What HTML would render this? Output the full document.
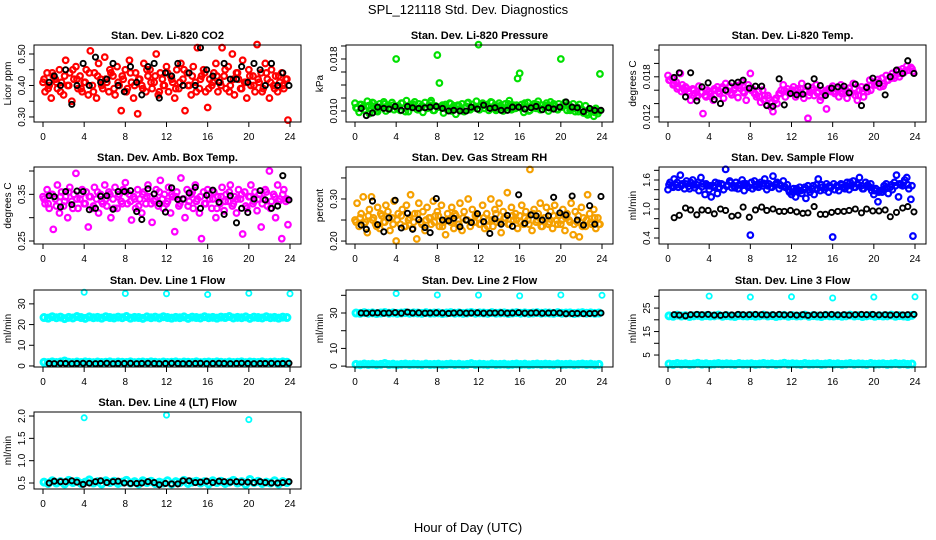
<!DOCTYPE html>
<html><head><meta charset="utf-8">
<style>
html,body{margin:0;padding:0;background:#fff;}
svg{display:block;font-family:"Liberation Sans",sans-serif;}
</style></head>
<body>
<svg id="chart" width="936" height="540" viewBox="0 0 936 540">
<text x="468" y="14" text-anchor="middle" font-size="13">SPL_121118  Std. Dev. Diagnostics</text>
<text x="468" y="532" text-anchor="middle" font-size="13">Hour of Day (UTC)</text>
</svg>
<script>
// ---- data ----
const hourTicks = [0,4,8,12,16,20,24];
const blackHours = [0.6,1.1,1.7,2.2,2.8,3.3,3.9,4.5,5.1,5.6,6.2,6.8,7.3,7.9,8.5,9.1,9.6,10.2,10.8,11.3,11.9,12.5,13.1,13.6,14.2,14.8,15.3,15.9,16.5,17.1,17.6,18.2,18.8,19.3,19.9,20.5,21.1,21.6,22.2,22.8,23.3,23.9];
const outlierHours = [4,8,12,16,20,24];
const denseStep = 0.2;
const flatStep = 0.4;

const co2Color = [0.41,0.38,0.44,0.40,0.36,0.43,0.42,0.39,0.45,0.41,0.37,0.48,0.40,0.44,0.35,0.42,0.46,0.39,0.43,0.38,
0.41,0.45,0.37,0.51,0.40,0.44,0.36,0.47,0.42,0.39,0.49,0.41,0.38,0.44,0.43,0.37,0.46,0.40,0.32,0.42,
0.45,0.39,0.48,0.41,0.36,0.44,0.31,0.42,0.40,0.47,0.38,0.43,0.45,0.39,0.41,0.50,0.37,0.44,0.42,0.40,
0.46,0.38,0.43,0.41,0.36,0.45,0.39,0.47,0.42,0.32,0.44,0.40,0.37,0.46,0.41,0.52,0.39,0.43,0.45,0.38,
0.33,0.42,0.40,0.44,0.47,0.38,0.41,0.52,0.43,0.39,0.46,0.40,0.50,0.37,0.44,0.42,0.39,0.48,0.41,0.36,
0.45,0.40,0.43,0.38,0.53,0.41,0.44,0.39,0.47,0.42,0.36,0.45,0.40,0.43,0.38,0.41,0.44,0.39,0.42,0.29];
const co2Core = [0.42,0.39,0.44,0.41,0.38,0.43,0.40,0.45,0.42,0.39,0.41,0.44,0.38,0.43,0.40,0.42,0.45,0.39,0.41,0.43,0.38,0.44,0.40,0.42,0.39,0.45,0.41,0.43,0.38,0.40,0.44,0.42,0.39,0.41,0.45,0.40,0.43,0.38,0.42,0.44,0.39,0.41,0.43,0.40,0.45,0.38,0.42,0.44,0.39,0.41,0.43,0.40,0.42,0.38,0.44,0.41,0.39,0.43,0.40,0.42];
const co2Black = [0.41,0.43,0.40,0.45,0.34,0.40,0.47,0.40,0.49,0.41,0.42,0.47,0.40,0.38,0.46,0.41,0.37,0.46,0.47,0.36,0.44,0.43,0.47,0.40,0.44,0.40,0.52,0.45,0.43,0.41,0.47,0.42,0.42,0.46,0.41,0.47,0.45,0.40,0.47,0.40,0.44,0.40];

const presColor = [.0112,.0104,.0098,.0110,.0107,.0101,.0115,.0096,.0108,.0112,.0103,.0099,.0111,.0106,.0114,.0100,.0109,.0105,.0113,.0102,
.0180,.0108,.0101,.0112,.0105,.0116,.0099,.0110,.0107,.0114,.0103,.0111,.0106,.0098,.0113,.0104,.0109,.0116,.0101,.0108,
.0186,.0143,.0106,.0097,.0110,.0104,.0112,.0100,.0108,.0095,.0109,.0103,.0111,.0099,.0107,.0113,.0102,.0110,.0105,.0115,
.0202,.0108,.0112,.0104,.0110,.0101,.0114,.0106,.0109,.0103,.0112,.0107,.0100,.0111,.0105,.0116,.0102,.0109,.0104,.0150,
.0158,.0110,.0098,.0106,.0113,.0101,.0108,.0111,.0104,.0115,.0102,.0109,.0106,.0112,.0100,.0114,.0105,.0108,.0103,.0111,
.0180,.0107,.0113,.0101,.0109,.0104,.0111,.0099,.0106,.0110,.0102,.0097,.0108,.0094,.0103,.0099,.0092,.0104,.0096,.0157];
const presCore = [.0105,.0110,.0102,.0108,.0113,.0100,.0106,.0111,.0103,.0109,.0104,.0112,.0099,.0107,.0110,.0102,.0108,.0105,.0113,.0101,.0106,.0109,.0103,.0111,.0104,.0108,.0100,.0112,.0105,.0107,.0102,.0110,.0106,.0113,.0101,.0108,.0104,.0111,.0103,.0109,.0105,.0112,.0100,.0107,.0110,.0103,.0108,.0105,.0111,.0102,.0106,.0109,.0101,.0104,.0099,.0102,.0097,.0101,.0098,.0100];
const presBlack = [.0104,.0093,.0097,.0106,.0104,.0103,.0107,.0101,.0107,.0105,.0104,.0105,.0106,.0107,.0104,.0100,.0101,.0100,.0100,.0106,.0103,.0109,.0104,.0105,.0101,.0101,.0106,.0106,.0103,.0105,.0107,.0102,.0105,.0103,.0106,.0114,.0106,.0105,.0099,.0104,.0101,.0101];

const tempColor = [.0182,.0175,.0178,.0170,.0172,.0165,.0185,.0168,.0160,.0163,.0158,.0145,.0162,.0155,.0150,.0166,.0157,.0125,.0152,.0160,
.0158,.0150,.0145,.0160,.0165,.0155,.0162,.0148,.0170,.0158,.0166,.0153,.0160,.0167,.0149,.0163,.0172,.0156,.0145,.0168,
.0185,.0162,.0155,.0150,.0158,.0142,.0160,.0152,.0138,.0148,.0135,.0128,.0145,.0140,.0155,.0160,.0168,.0150,.0162,.0155,
.0158,.0165,.0150,.0162,.0156,.0170,.0148,.0160,.0118,.0157,.0164,.0152,.0168,.0158,.0145,.0160,.0155,.0132,.0162,.0158,
.0166,.0155,.0162,.0150,.0168,.0158,.0160,.0148,.0163,.0156,.0170,.0152,.0145,.0160,.0165,.0150,.0162,.0158,.0175,.0168,
.0172,.0168,.0176,.0165,.0178,.0170,.0182,.0175,.0180,.0185,.0178,.0188,.0190,.0185,.0192,.0188,.0196,.0190,.0194,.0188];
const tempCore = [.0175,.0168,.0162,.0158,.0165,.0155,.0160,.0152,.0157,.0150,.0155,.0162,.0158,.0165,.0160,.0156,.0163,.0167,.0158,.0162,.0160,.0154,.0150,.0146,.0152,.0142,.0148,.0155,.0160,.0157,.0160,.0155,.0162,.0158,.0152,.0160,.0156,.0150,.0158,.0162,.0158,.0162,.0155,.0160,.0157,.0163,.0152,.0158,.0165,.0160,.0168,.0172,.0166,.0175,.0178,.0182,.0180,.0186,.0190,.0192];
const tempBlack = [.0179,.0186,.0150,.0186,.0144,.0165,.0171,.0146,.0140,.0160,.0171,.0172,.0175,.0163,.0166,.0166,.0137,.0136,.0177,.0138,.0155,.0153,.0154,.0166,.0177,.0167,.0152,.0163,.0165,.0166,.0156,.0169,.0137,.0164,.0178,.0170,.0153,.0180,.0190,.0185,.0204,.0185];

const ambColor = [.345,.330,.360,.320,.350,.275,.340,.370,.310,.355,.325,.345,.300,.365,.335,.350,.395,.320,.340,.360,
.330,.355,.280,.345,.320,.365,.340,.310,.350,.330,.370,.325,.355,.300,.340,.365,.320,.350,.335,.360,
.375,.330,.350,.295,.345,.320,.360,.340,.310,.355,.330,.370,.345,.290,.335,.360,.325,.380,.340,.350,
.330,.365,.310,.345,.270,.355,.325,.385,.340,.300,.360,.335,.350,.320,.370,.340,.310,.255,.355,.330,
.360,.340,.320,.355,.300,.345,.330,.365,.315,.350,.335,.370,.325,.345,.310,.360,.340,.265,.355,.320,
.345,.370,.330,.355,.315,.350,.280,.340,.360,.325,.400,.335,.350,.300,.370,.340,.255,.360,.335,.285];
const ambCore = [.340,.330,.350,.325,.345,.335,.355,.320,.340,.350,.330,.345,.325,.355,.335,.340,.350,.320,.345,.330,.355,.335,.340,.325,.350,.345,.330,.340,.355,.320,.335,.350,.345,.330,.340,.325,.355,.335,.345,.330,.350,.340,.320,.345,.335,.355,.330,.340,.350,.325,.345,.335,.340,.330,.355,.320,.345,.335,.350,.340];
const ambBlack = [.347,.345,.323,.356,.328,.357,.356,.317,.320,.346,.347,.318,.356,.356,.358,.313,.296,.362,.351,.330,.312,.364,.339,.340,.353,.365,.320,.348,.359,.333,.307,.347,.289,.320,.311,.340,.358,.338,.320,.325,.390,.338];

const rhColor = [.250,.290,.235,.265,.305,.245,.220,.275,.305,.255,.240,.280,.230,.260,.245,.285,.270,.225,.255,.295,
.200,.265,.240,.275,.235,.285,.250,.310,.230,.265,.205,.290,.245,.270,.225,.280,.255,.240,.295,.260,
.270,.235,.285,.245,.215,.265,.250,.280,.230,.260,.240,.290,.225,.270,.250,.300,.235,.275,.245,.265,
.255,.240,.285,.230,.265,.250,.300,.235,.275,.245,.290,.220,.270,.255,.315,.240,.280,.250,.265,.230,
.260,.285,.240,.270,.250,.370,.225,.275,.245,.265,.290,.235,.255,.280,.240,.270,.230,.285,.250,.260,
.240,.275,.225,.265,.250,.290,.215,.270,.245,.210,.280,.255,.235,.310,.265,.240,.275,.230,.255,.240];
const rhCore = [.245,.255,.240,.260,.250,.235,.265,.245,.255,.240,.250,.260,.235,.255,.245,.265,.240,.250,.255,.245,.260,.235,.250,.245,.265,.240,.255,.250,.245,.260,.240,.255,.235,.250,.265,.245,.255,.240,.260,.250,.245,.255,.240,.265,.250,.235,.255,.245,.260,.240,.250,.255,.245,.240,.260,.235,.250,.245,.255,.240];
const rhBlack = [.238,.228,.295,.239,.222,.255,.297,.231,.266,.228,.251,.232,.220,.301,.250,.248,.254,.234,.250,.244,.265,.246,.218,.253,.240,.261,.235,.310,.242,.262,.260,.250,.260,.304,.267,.262,.307,.250,.238,.284,.240,.306];

const flowColor = [1.40,1.55,1.48,1.62,1.50,1.45,1.70,1.52,1.42,1.58,1.47,1.55,1.60,1.44,1.50,1.38,1.65,1.52,1.30,1.48,
1.40,1.25,1.48,1.55,1.32,1.45,1.52,1.40,1.82,1.50,1.58,1.44,1.48,1.55,1.42,1.50,1.60,1.38,1.52,1.45,
0.46,1.42,1.58,1.50,1.45,1.55,1.48,1.62,1.40,1.52,1.46,1.68,1.50,1.55,1.42,1.48,1.58,1.45,1.50,1.35,
1.30,1.42,1.25,1.38,1.45,1.32,1.40,1.22,1.48,1.35,1.42,1.30,1.50,1.62,1.38,1.45,1.40,1.52,1.35,1.44,
0.42,1.40,1.48,1.38,1.52,1.45,1.42,1.55,1.40,1.48,1.58,1.45,1.52,1.65,1.48,1.42,1.55,1.50,1.45,1.38,
1.30,1.42,1.15,1.38,1.35,1.48,1.52,1.32,1.45,1.40,1.55,1.70,1.25,1.50,1.48,1.60,1.65,1.42,1.20,0.44];
const flowCore = [1.50,1.45,1.55,1.48,1.52,1.42,1.50,1.55,1.46,1.52,1.48,1.45,1.53,1.50,1.47,1.55,1.44,1.50,1.52,1.48,1.55,1.46,1.50,1.53,1.48,1.45,1.52,1.50,1.47,1.40,1.35,1.42,1.38,1.45,1.40,1.48,1.42,1.50,1.45,1.48,1.52,1.46,1.50,1.48,1.55,1.45,1.50,1.42,1.48,1.52,1.38,1.35,1.40,1.45,1.50,1.48,1.52,1.55,1.50,1.48];
const flowBlack = [0.82,0.87,1.02,0.98,0.88,0.98,0.97,0.90,1.00,0.97,0.85,0.87,1.04,0.83,0.98,1.04,0.97,1.00,0.95,0.95,0.97,0.94,0.91,0.92,1.05,0.89,0.89,0.93,0.95,0.95,0.97,1.00,0.92,1.00,0.96,0.96,0.98,0.84,0.93,1.02,1.05,0.94];

const line1High = [23.4,23.1,23.8,23.3,23.6,22.9,23.5,23.2,23.9,23.4,23.0,23.7,23.3,23.5,23.1,23.8,23.4,23.2,23.6,23.3,23.9,23.1,23.5,23.4,23.0,23.7,23.3,23.6,23.2,23.8,23.4,23.1,23.5,23.3,23.7,23.0,23.6,23.4,23.2,23.8,23.3,23.5,23.1,23.6,23.4,23.9,23.2,23.5,23.3,23.7,23.0,23.6,23.4,23.2,23.8,23.3,23.5,23.1,23.6,23.4];
const line1Low = [1.8,1.6,2.0,1.7,1.9,2.4,1.8,1.6,1.9,1.7,2.0,1.8,1.6,1.9,1.7,1.8,2.0,1.6,1.9,1.8,1.7,2.0,1.6,1.8,1.9,1.7,2.0,1.8,1.6,1.9,1.7,1.8,2.0,1.6,1.9,1.8,1.7,2.0,1.6,1.8,1.9,1.7,2.0,1.8,1.6,1.9,1.7,1.8,2.0,1.6,1.9,1.8,1.7,2.0,1.6,1.8,1.9,1.7,2.0,1.8];
const line1Black = [1.2,1.1,1.3,1.2,1.1,1.2,1.3,1.2,1.1,1.2,1.3,1.1,1.2,1.2,1.3,1.1,1.2,1.3,1.2,1.1,1.2,1.3,1.2,1.1,1.2,1.2,1.3,1.1,1.2,1.3,1.2,1.1,1.2,1.3,1.2,1.1,1.2,1.2,1.3,1.1,1.2,1.3];
const line1Out = [35.6,35.0,34.9,34.5,35.1,34.9];

const line2High = [30.0,29.8,30.2,29.9,30.1,29.7,30.0,30.3,29.9,30.1,29.8,30.0,30.2,29.9,30.1,30.0,29.8,30.2,29.9,30.0,30.1,29.7,30.0,30.2,29.9,30.1,29.8,30.0,30.3,29.9,30.1,30.0,29.8,30.2,29.9,30.0,30.1,29.7,30.0,30.2,29.9,30.1,29.8,30.0,30.2,29.9,30.1,30.0,29.8,30.2,29.9,30.0,30.1,29.7,30.0,30.2,29.9,30.1,29.8,30.0];
const line2Low = [1.0,0.8,1.2,0.9,1.1,0.8,1.0,1.5,0.9,1.1,0.8,1.0,1.2,0.9,1.1,1.0,0.8,1.2,0.9,1.0,1.1,0.8,1.0,1.2,0.9,1.1,0.8,1.0,1.4,0.9,1.1,1.0,0.8,1.2,0.9,1.0,1.1,0.8,1.0,1.2,0.9,1.1,0.8,1.0,1.2,0.9,1.1,1.0,0.8,1.2,0.9,1.0,1.1,0.8,1.0,1.2,0.9,1.1,0.8,1.0];
const line2Black = [30.0,29.9,30.0,30.1,29.9,30.0,30.2,29.9,30.5,30.0,30.1,29.9,30.0,30.1,30.0,29.8,30.0,30.1,29.9,30.0,30.1,29.9,30.0,30.0,30.1,29.9,30.0,30.2,29.9,30.0,30.1,29.9,30.0,30.1,30.0,29.6,29.7,29.8,29.6,29.7,29.8,30.0];
const line2Out = [41.0,40.2,40.1,39.7,40.2,40.0];

const line3High = [21.7,21.5,22.0,21.6,21.8,21.4,21.7,21.9,21.5,21.8,21.6,21.7,22.0,21.5,21.8,21.6,21.4,21.9,21.7,21.6,21.8,21.5,21.7,22.0,21.6,21.8,21.4,21.7,21.9,21.5,21.8,21.6,21.7,22.0,21.5,21.8,21.6,21.4,21.9,21.7,21.6,21.8,21.5,21.7,22.0,21.6,21.8,21.4,21.7,21.9,21.5,21.8,21.6,21.7,22.0,21.5,21.8,21.6,21.4,21.9];
const line3Low = [1.2,1.0,1.4,1.1,1.3,1.0,1.2,1.5,1.1,1.3,1.0,1.2,1.4,1.1,1.3,1.2,1.0,1.4,1.1,1.2,1.3,1.0,1.2,1.4,1.1,1.3,1.0,1.2,1.5,1.1,1.3,1.2,1.0,1.4,1.1,1.2,1.3,1.0,1.2,1.4,1.1,1.3,1.0,1.2,1.4,1.1,1.3,1.2,1.0,1.4,1.1,1.2,1.3,1.0,1.2,1.4,1.1,1.3,1.0,1.2];
const line3Black = [22.2,22.0,21.7,22.2,22.3,22.2,22.3,22.0,21.9,22.2,22.1,22.3,22.2,22.2,22.3,22.2,22.1,22.2,22.3,22.1,22.2,22.0,22.2,21.9,22.2,22.1,22.2,22.3,22.1,22.2,22.0,22.2,22.3,22.2,22.3,22.1,22.2,22.0,22.2,22.1,22.2,22.3];
const line3Out = [30.1,29.7,29.8,29.3,29.7,29.8];

const line4Color = [0.52,0.49,0.55,0.50,0.53,0.48,0.56,0.51,0.54,0.49,0.52,0.57,0.50,0.53,0.48,0.55,0.51,0.54,0.49,0.52,0.56,0.50,0.53,0.48,0.55,0.51,0.54,0.49,0.52,0.50,0.55,0.48,0.53,0.51,0.56,0.49,0.52,0.54,0.50,0.53,0.48,0.55,0.51,0.54,0.49,0.52,0.56,0.50,0.53,0.47,0.58,0.51,0.54,0.49,0.52,0.50,0.55,0.48,0.53,0.51];
const line4Black = [0.50,0.54,0.53,0.53,0.55,0.52,0.47,0.50,0.53,0.55,0.51,0.53,0.54,0.50,0.49,0.49,0.50,0.53,0.51,0.46,0.49,0.48,0.48,0.55,0.55,0.51,0.52,0.54,0.51,0.54,0.53,0.52,0.53,0.52,0.52,0.51,0.53,0.51,0.50,0.50,0.51,0.53];
const line4OutHours = [4,12,20];
const line4Out = [1.96,2.02,1.92];

// ---- layout ----
const NS = "http://www.w3.org/2000/svg";
const svg = document.getElementById("chart");
const colLeft = [34, 346, 659];
const rowTop = [45, 167, 290, 412];
const boxW = 267, boxH = 77;

function mk(tag, attrs, parent) {
  const e = document.createElementNS(NS, tag);
  for (const k in attrs) e.setAttribute(k, attrs[k]);
  (parent || svg).appendChild(e);
  return e;
}

const panels = [
  {title:"Stan. Dev. Li-820 CO2", ylab:"Licor ppm", r:0, c:0, ymin:0.284, ymax:0.5286, ticks:[0.30,0.35,0.40,0.45,0.50], labels:["0.30","","0.40","","0.50"], dense:co2Color, core:co2Core, color:"#ff0000", black:co2Black},
  {title:"Stan. Dev. Li-820 Pressure", ylab:"kPa", r:0, c:1, ymin:0.00831, ymax:0.02015, ticks:[0.010,0.012,0.014,0.016,0.018,0.020], labels:["0.010","","","","0.018",""], dense:presColor, core:presCore, color:"#00e000", black:presBlack},
  {title:"Stan. Dev. Li-820 Temp.", ylab:"degrees C", r:0, c:2, ymin:0.01125, ymax:0.02275, ticks:[0.012,0.014,0.016,0.018,0.020,0.022], labels:["0.012","","","0.018","",""], dense:tempColor, core:tempCore, color:"#ff00ff", black:tempBlack},
  {title:"Stan. Dev. Amb. Box Temp.", ylab:"degrees C", r:1, c:0, ymin:0.2436, ymax:0.4086, ticks:[0.25,0.30,0.35,0.40], labels:["0.25","","0.35",""], dense:ambColor, core:ambCore, color:"#ff00ff", black:ambBlack},
  {title:"Stan. Dev. Gas Stream RH", ylab:"percent", r:1, c:1, ymin:0.193, ymax:0.376, ticks:[0.20,0.25,0.30,0.35], labels:["0.20","","0.30",""], dense:rhColor, core:rhCore, color:"#f5a000", black:rhBlack},
  {title:"Stan. Dev. Sample Flow", ylab:"ml/min", r:1, c:2, ymin:0.276, ymax:1.869, ticks:[0.4,0.6,0.8,1.0,1.2,1.4,1.6,1.8], labels:["0.4","","","1.0","","","1.6",""], dense:flowColor, core:flowCore, color:"#0000ff", black:flowBlack},
  {title:"Stan. Dev. Line 1 Flow", ylab:"ml/min", r:2, c:0, ymin:-0.5, ymax:36.7, ticks:[0,10,20,30], labels:["0","10","20","30"], flat:[line1High,line1Low], black:line1Black, outH:outlierHours, out:line1Out},
  {title:"Stan. Dev. Line 2 Flow", ylab:"ml/min", r:2, c:1, ymin:-0.5, ymax:43, ticks:[0,10,20,30,40], labels:["0","10","","30",""], flat:[line2High,line2Low], black:line2Black, outH:outlierHours, out:line2Out},
  {title:"Stan. Dev. Line 3 Flow", ylab:"ml/min", r:2, c:2, ymin:-0.1, ymax:32.7, ticks:[5,10,15,20,25,30], labels:["5","","15","","25",""], flat:[line3High,line3Low], black:line3Black, outH:outlierHours, out:line3Out},
  {title:"Stan. Dev. Line 4 (LT) Flow", ylab:"ml/min", r:3, c:0, ymin:0.366, ymax:2.09, ticks:[0.5,1.0,1.5,2.0], labels:["0.5","1.0","1.5","2.0"], flat:[line4Color], black:line4Black, outH:line4OutHours, out:line4Out}
];

panels.forEach((p, pi) => {
  const L = colLeft[p.c], T = rowTop[p.r], B = T + boxH, R = L + boxW;
  const g = mk("g", {});
  
  
  const xs = h => L + 9 + h / 24 * 247;
  const ys = v => B - (v - p.ymin) / (p.ymax - p.ymin) * boxH;

  const t = mk("text", {x: L + boxW/2, y: T - 6, "text-anchor":"middle", "font-size":"11", "font-weight":"bold"}, g);
  t.textContent = p.title;
  
  

  const yl = mk("text", {x:0, y:0, "text-anchor":"middle", "font-size":"10", transform:`translate(${L-23},${T+boxH/2}) rotate(-90)`}, g);
  yl.textContent = p.ylab;
  
  

  const pts = mk("g", {fill:"none"}, g);
  
  
  if (p.dense) {
    p.dense.forEach((v, i) => {
      const c = mk("circle", {cx: xs(i * denseStep), cy: ys(v), r: 2.8, stroke: p.color, "stroke-width": 2.2}, pts);
      
      
    });
    p.core.forEach((v, i) => {
      const c = mk("circle", {cx: xs(i * flatStep + 0.1), cy: ys(v), r: 2.8, stroke: p.color, "stroke-width": 2.2}, pts);
      
      
    });
  }
  if (p.flat) p.flat.forEach(arr => {
    arr.forEach((v, i) => {
      const c = mk("circle", {cx: xs(i * flatStep + 0.1), cy: ys(v), r: 3, stroke: "#00ffff", "stroke-width": 3}, pts);
      
      
    });
  });
  if (p.out) p.out.forEach((v, i) => {
    const c = mk("circle", {cx: xs(p.outH[i]), cy: ys(v), r: 2.6, stroke: "#00ffff", "stroke-width": 1.8}, pts);
    
    
  });
  p.black.forEach((v, i) => {
    const c = mk("circle", {cx: xs(blackHours[i]), cy: ys(v), r: 2.6, stroke: "#000", "stroke-width": 1.9}, pts);
    
    
  });

  const bx = mk("rect", {x:L, y:T, width:boxW, height:boxH, fill:"none", stroke:"#000", "stroke-width":1}, g);
  
  

  const xa = mk("g", {}, g);
  
  
  mk("line", {x1: xs(hourTicks[0]), x2: xs(hourTicks[hourTicks.length-1]), y1: B, y2: B, stroke:"#000"}, xa);
  hourTicks.forEach(h => {
    mk("line", {x1: xs(h), x2: xs(h), y1: B, y2: B + 5, stroke:"#000"}, xa);
    const tl = mk("text", {x: xs(h), y: B + 18, "text-anchor":"middle", "font-size":"10"}, xa);
    tl.textContent = h;
    
    
  });

  const ya = mk("g", {}, g);
  
  
  mk("line", {x1: L, x2: L, y1: ys(p.ticks[0]), y2: ys(p.ticks[p.ticks.length-1]), stroke:"#000"}, ya);
  p.ticks.forEach((v, i) => {
    mk("line", {x1: L - 5, x2: L, y1: ys(v), y2: ys(v), stroke:"#000"}, ya);
    if (p.labels[i]) {
      const tl = mk("text", {x:0, y:0, "text-anchor":"middle", "font-size":"10", transform:`translate(${L-9},${ys(v)}) rotate(-90)`}, ya);
      tl.textContent = p.labels[i];
      
      
    }
  });
});
</script>
</body></html>
